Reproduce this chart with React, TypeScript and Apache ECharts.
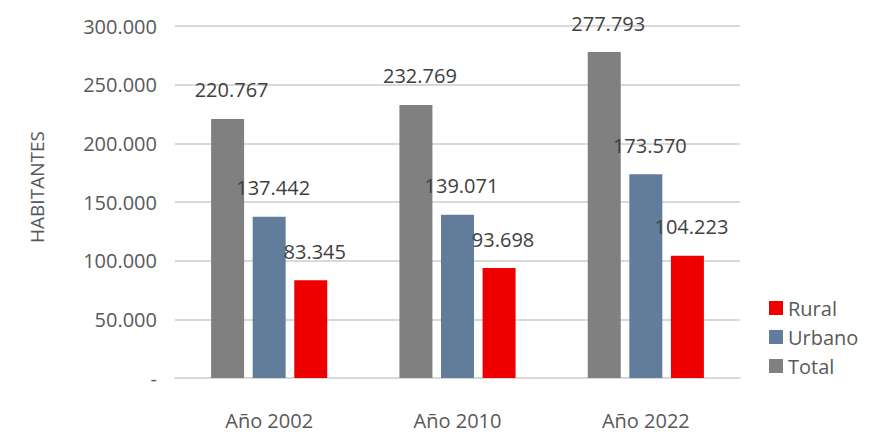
import React, { useEffect, useRef } from "react";
import * as echarts from "echarts";

const categories = ["Año 2002", "Año 2010", "Año 2022"];
const totalValues = [220767, 232769, 277793];
const urbanoValues = [137442, 139071, 173570];
const ruralValues = [83345, 93698, 104223];
const legendOrder = ["Rural", "Urbano", "Total"];
const yTitle = "HABITANTES";

const FONT = "'Open Sans', 'Noto Sans', sans-serif";

function fmt(v: number): string {
  if (v === 0) return "-";
  return String(Math.round(v)).replace(/\B(?=(\d{3})+(?!\d))/g, ".");
}

export default function App() {
  const ref = useRef<HTMLDivElement>(null);
  useEffect(() => {
    if (!ref.current) return;
    const chart = echarts.init(ref.current, undefined, { renderer: "svg" });
    const label = {
      show: true,
      position: "top",
      distance: 19,
      offset: [4, 0],
      color: "#404040",
      fontSize: 20,
      fontFamily: FONT,
      formatter: (p: any) => fmt(p.value),
    };
    const mk = (name: string, data: number[], color: string) => ({
      name,
      type: "bar",
      data,
      barWidth: 33,
      barGap: "26%",
      itemStyle: { color },
      label,
    });
    chart.setOption({
      animation: false,
      grid: { left: 175, right: 135, top: 26, bottom: 54 },
      graphic: [
        {
          type: "text",
          x: 37,
          y: 187,
          rotation: Math.PI / 2,
          style: {
            text: yTitle,
            fill: "#595959",
            fontSize: 19,
            fontFamily: FONT,
            align: "center",
            verticalAlign: "middle",
          },
        },
      ],
      legend: {
        data: legendOrder,
        orient: "vertical",
        left: 764,
        top: 293,
        itemWidth: 14,
        itemHeight: 14,
        itemGap: 9,
        icon: "rect",
        textStyle: { color: "#595959", fontSize: 20, fontFamily: FONT },
      },
      xAxis: {
        type: "category",
        data: categories,
        axisLine: { lineStyle: { color: "#D9D9D9", width: 2 } },
        axisTick: { show: false },
        axisLabel: { color: "#595959", fontSize: 20, fontFamily: FONT, margin: 32 },
      },
      yAxis: {
        type: "value",
        min: 0,
        max: 300000,
        interval: 50000,
        axisLine: { show: false },
        axisTick: { show: false },
        splitLine: { lineStyle: { color: "#D9D9D9", width: 2 } },
        axisLabel: {
          color: "#595959",
          fontSize: 20,
          fontFamily: FONT,
          margin: 18,
          formatter: (v: number) => fmt(v),
        },
      },
      series: [
        mk("Total", totalValues, "#808080"),
        mk("Urbano", urbanoValues, "#627D9C"),
        mk("Rural", ruralValues, "#EE0000"),
      ],
    });
    return () => chart.dispose();
  }, []);
  return (
    <div
      ref={ref}
      style={{ position: "absolute", left: 0, top: 0, width: 875, height: 432 }}
    />
  );
}
